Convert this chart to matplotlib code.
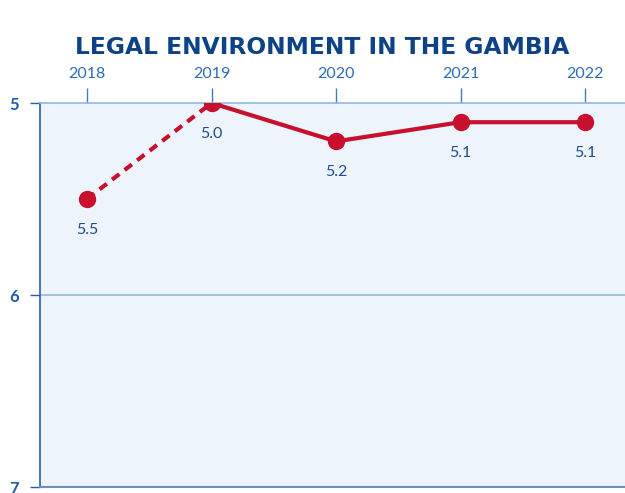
import matplotlib
matplotlib.use("Agg")
import matplotlib.pyplot as plt

years = [2018, 2019, 2020, 2021, 2022]
scores = [5.5, 5.0, 5.2, 5.1, 5.1]
labels = ["5.5", "5.0", "5.2", "5.1", "5.1"]
yticks = [5, 6, 7]

plt.rcParams['font.family'] = ['Lato', 'DejaVu Sans']

fig = plt.figure(figsize=(6.25, 4.93), dpi=100)
ax = fig.add_axes([40/625, 1-487/493, 1-40/625, (487-103)/493])
ax.set_facecolor('#eef4fb')

red = '#c8102e'
ax.plot(years[:2], scores[:2], color=red, lw=3, ls=(0, (2.2, 1.6)), zorder=3)
ax.plot(years[1:], scores[1:], color=red, lw=3, zorder=3)
ax.plot(years, scores, 'o', color=red, ms=11.5, zorder=4)

for x, y, t in zip(years, scores, labels):
    ax.annotate(t, (x, y), xytext=(0, -22), textcoords='offset points',
                ha='center', va='center', fontsize=11.5, color='#1a4f8f')

ax.set_xlim(2018 - 47/124.5, 2022 + 40/124.5)
ax.set_ylim(7, 5)
ax.set_yticks(yticks)
ax.set_yticklabels([str(v) for v in yticks], fontsize=12, fontweight='bold', color='#1f5da8')
ax.set_xticks(years)
ax.set_xticklabels([str(v) for v in years], fontsize=11.5, color='#2b6cb3')
ax.xaxis.tick_top()
ax.tick_params(axis='x', length=11, width=1, color='#3d7cc4', pad=5)
ax.tick_params(axis='y', length=7, width=1, color='#1f5da8', pad=8)

ax.axhline(6, color='#8db8e3', lw=1.2, zorder=1)
ax.spines['right'].set_visible(False)
ax.spines['top'].set_color('#8db8e3')
ax.spines['top'].set_linewidth(1.2)
ax.spines['left'].set_color('#2160b0')
ax.spines['left'].set_linewidth(1.2)
ax.spines['bottom'].set_color('#6b8fb8')
ax.spines['bottom'].set_linewidth(1.5)

fig.text(0.515, 1-48/493, 'LEGAL ENVIRONMENT IN THE GAMBIA', ha='center', va='center',
         fontsize=16.8, fontweight='bold', color='#0d4286', family='DejaVu Sans')

fig.savefig('out.png', dpi=100)
